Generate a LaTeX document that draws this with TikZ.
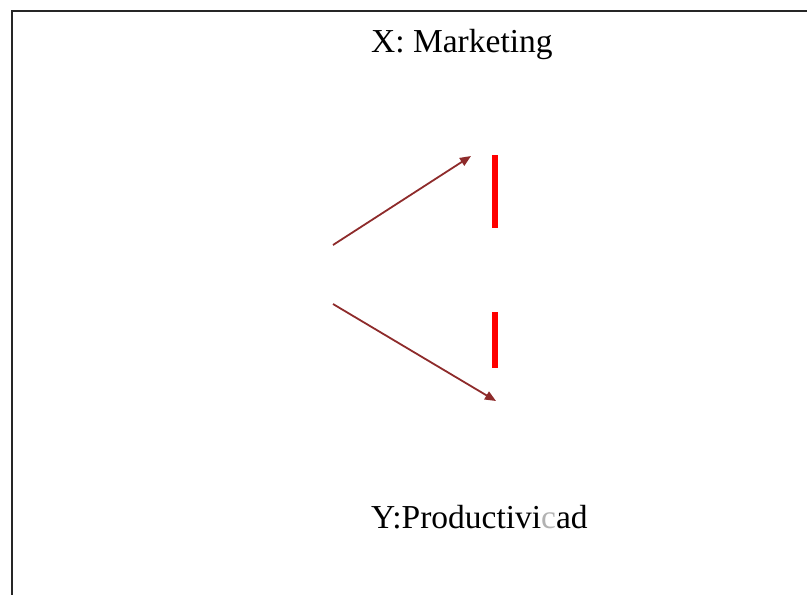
\documentclass[tikz,border=0pt]{standalone}
\usepackage{fontspec}
\setmainfont{Liberation Serif}
\usepackage{xcolor}
\usetikzlibrary{arrows.meta, positioning}

\definecolor{arrowred}{HTML}{8E2B2B}

\begin{document}
\begin{tikzpicture}[
    x=1pt, y=-1pt,
    label/.style={inner sep=0pt, anchor=base west, font=\fontsize{33.5}{40}\selectfont},
    link/.style={-{Triangle[length=11pt, width=9pt]}, arrowred, line width=1.8pt},
    bar/.style={draw=none, fill=red}
]
\useasboundingbox (0,0) rectangle (807,595);

% Frame
\draw[line width=1.8pt, black!85] (807,11) -- (12,11) -- (12,595);

% Labels
\node[label] (xlab) at (371,52) {X: Marketing};
\node[label] (ylab) at (371,528) {Y:Productivi{\color{gray!60}c}ad};

% Arrows
\coordinate (up0) at (333,245);
\coordinate (up1) at (471,156);
\coordinate (dn0) at (333,304);
\coordinate (dn1) at (496,401);
\draw[link] (up0) -- (up1);
\draw[link] (dn0) -- (dn1);

% Red bars
\fill[bar] (492,155) rectangle (498,228);
\fill[bar] (492,312) rectangle (498,368);

\end{tikzpicture}
\end{document}
